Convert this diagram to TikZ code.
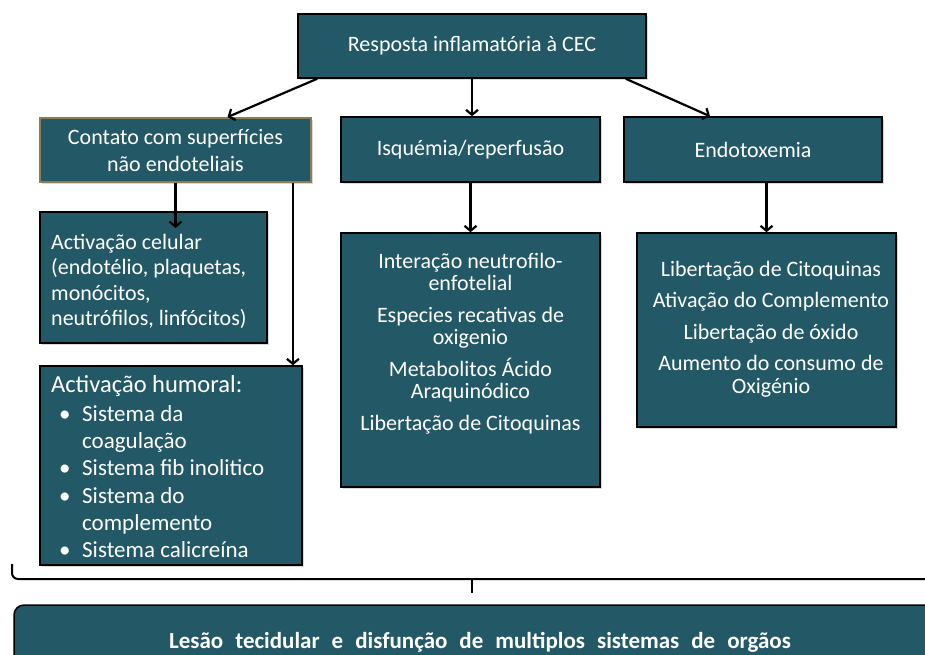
\documentclass[tikz,border=0pt]{standalone}
\usepackage{fontspec}
\setmainfont{Carlito}
\usetikzlibrary{arrows.meta,shadows}
\definecolor{petroleo}{RGB}{35,88,102}
\definecolor{oliva}{RGB}{140,126,80}
\newcommand\espacolargo{\spaceskip=12pt\relax}
\tikzset{
  caixa/.style={draw=black, line width=1.5pt, fill=petroleo, text=white, inner sep=0pt,
    font=\fontsize{22}{27}\selectfont,
    drop shadow={opacity=0.3, shadow xshift=1.5pt, shadow yshift=-2pt}},
  texto/.style={text=white, inner sep=0pt, font=\fontsize{22}{22.5}\selectfont},
  seta/.style={line width=2.2pt, -{Straight Barb[length=5pt,width=12pt]}},
}
\begin{document}
\begin{tikzpicture}[x=1pt,y=-1pt]
\useasboundingbox (0,0) rectangle (925,654);
\node[caixa, minimum width=348pt, minimum height=64pt] (topo) at (472,46) {Resposta inflamatória à CEC};
\node[caixa, draw=oliva, line width=1.8pt, minimum width=271pt, minimum height=64pt, align=center] (contato) at (175.5,150) {Contato com superfícies\\não endoteliais};
\node[caixa, minimum width=259pt, minimum height=65pt] (isquemia) at (470.5,149.5) {Isquémia/reperfusão};
\node[caixa, minimum width=258pt, minimum height=65pt] (endotox) at (753,149.5) {Endotoxemia};
\node[caixa, minimum width=227pt, minimum height=131pt] (celular) at (153.5,277.5) {};
\node[caixa, minimum width=262pt, minimum height=199pt] (humoral) at (171,465.5) {};
\node[caixa, minimum width=259pt, minimum height=254pt] (interacao) at (470.5,360) {};
\node[caixa, minimum width=259pt, minimum height=194pt] (libertacao) at (766.5,330) {};
\node[caixa, rounded corners=10pt, minimum width=932pt, minimum height=74pt, font=\fontsize{23}{27}\selectfont\bfseries] (lesao) at (480,642) {\espacolargo Lesão tecidular e disfunção de multiplos sistemas de orgãos};

\node[texto, anchor=north west, align=left, font=\fontsize{22}{25.5}\selectfont] (tcelular) at (51,234) {Activação celular\\(endotélio, plaquetas,\\monócitos,\\neutrófilos, linfócitos)};
\node[texto, anchor=north west, font=\fontsize{24.5}{27}\selectfont] (thumoral) at (51,375) {Activação humoral:};
\node[texto, anchor=north west, font=\fontsize{23}{27.3}\selectfont] (tsistemas) at (59,402) {%
  \begin{tabular}{@{}p{23pt}@{}l@{}}
  \textbullet & Sistema da\\
              & coagulação\\
  \textbullet & Sistema fib inolitico\\
  \textbullet & Sistema do\\
              & complemento\\
  \textbullet & Sistema calicreína
  \end{tabular}};
\node[texto, anchor=north, align=center] (tinteracao) at (470.5,253) {Interação neutrofilo-\\enfotelial\\[9pt]Especies recativas de\\oxigenio\\[9pt]Metabolitos Ácido\\Araquinódico\\[9pt]Libertação de Citoquinas};
\node[texto, anchor=north, align=center] (tlibertacao) at (771,261) {Libertação de Citoquinas\\[9pt]Ativação do Complemento\\[9pt]Libertação de óxido\\[9pt]Aumento do consumo de\\Oxigénio};

\coordinate (pcel) at (175.5,228);
\coordinate (ce) at ([xshift=-19pt]contato.south east);
\draw[seta] ([xshift=20pt]topo.south west) -- ([xshift=52pt]contato.north);
\draw[seta] (topo.south) -- (topo.south |- isquemia.north);
\draw[seta] ([xshift=-21pt]topo.south east) -- ([xshift=-43pt]endotox.north);
\draw[seta] (contato.south) -- (pcel);
\draw[seta] (ce) -- (ce |- humoral.north);
\draw[seta] (isquemia.south) -- (interacao.north);
\draw[seta] (libertacao.north |- endotox.south) -- (libertacao.north);

\draw[line width=2pt, rounded corners=6pt] (12,564) -- (12,579) -- (930,579);
\draw[line width=2pt] (472,579) -- (472,593);
\end{tikzpicture}
\end{document}
